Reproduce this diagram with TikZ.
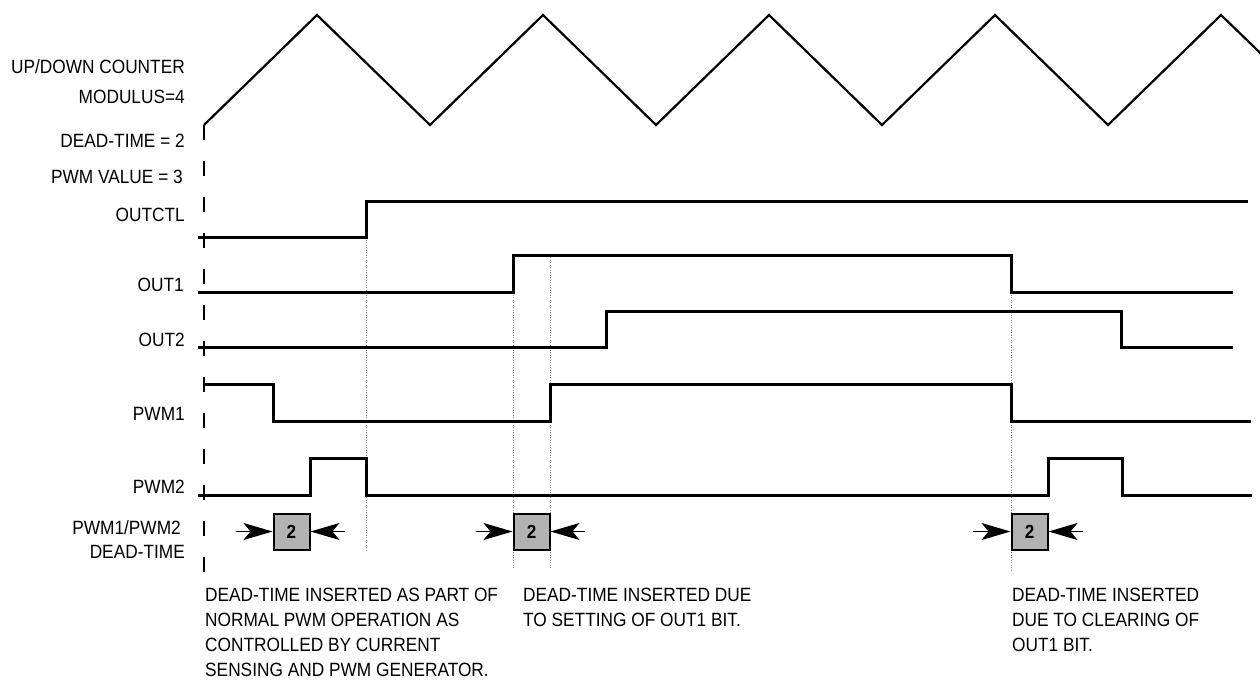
\documentclass[tikz,border=0pt]{standalone}
\usepackage{fontspec}
\setmainfont[FakeStretch=0.90]{Liberation Sans}
\usetikzlibrary{arrows.meta}
\begin{document}
\begin{tikzpicture}[x=1pt,y=-1pt,
 sig/.style={line width=3pt, line join=miter},
 tri/.style={line width=2.2pt},
 guide/.style={black!45, line width=0.9pt, dash pattern=on 1pt off 1.5pt},
 marker/.style={line width=2pt, dash pattern=on 15pt off 21pt},
 lbl/.style={anchor=base east, inner sep=0, font=\fontsize{19.2}{22}\selectfont},
 note/.style={anchor=north west, inner sep=0, font=\fontsize{19.2}{25}\selectfont, align=left},
 dtbox/.style={draw, line width=2pt, fill=black!30, minimum size=36pt, inner sep=0, font=\bfseries\fontsize{19}{20}\selectfont},
 dtarrow/.style={line width=1.5pt, -{Stealth[length=29pt,width=17pt,inset=7pt]}}
]
\useasboundingbox (0,0) rectangle (1260,685);

% labels
\node[lbl] (lcnt) at (185,74) {UP/DOWN COUNTER};
\node[lbl] (lmod) at (185,103) {MODULUS=4};
\node[lbl] (ldt) at (185,147) {DEAD-TIME = 2};
\node[lbl] (lpwmv) at (183,183) {PWM VALUE = 3};
\node[lbl] (loutctl) at (185,221) {OUTCTL};
\node[lbl] (lout1) at (184,291) {OUT1};
\node[lbl] (lout2) at (185,346) {OUT2};
\node[lbl] (lpwm1) at (185,420) {PWM1};
\node[lbl] (lpwm2) at (185,493) {PWM2};
\node[lbl] (lpwm12) at (181,534) {PWM1/PWM2};
\node[lbl] (ldead) at (185,558) {DEAD-TIME};

% guides
\draw[guide] (366,237) -- (366,552);
\draw[guide] (513,292) -- (513,568);
\draw[guide] (550,257) -- (550,568);
\draw[guide] (1011,292) -- (1011,570);

% start marker
\draw[marker] (204,125) -- (204,572);

% counter
\draw[tri] (204,125) -- (317,15) -- (430,125) -- (543,15) -- (656,125) -- (769,15) -- (882,125) -- (995,15) -- (1108,125) -- (1221,15) -- (1262,54.7);

% signals
\draw[sig] (198,237) -- (366,237) -- (366,201) -- (1248,201);
\draw[sig] (198,292) -- (513,292) -- (513,255) -- (1011,255) -- (1011,292) -- (1233,292);
\draw[sig] (198,347) -- (606,347) -- (606,311) -- (1121,311) -- (1121,347) -- (1233,347);
\draw[sig] (204,384) -- (273,384) -- (273,421) -- (550,421) -- (550,384) -- (1011,384) -- (1011,421) -- (1251,421);
\draw[sig] (198,495) -- (310,495) -- (310,458) -- (366,458) -- (366,495) -- (1048,495) -- (1048,458) -- (1122,458) -- (1122,495) -- (1252,495);

% dead-time boxes
\node[dtbox] (b1) at (291.5,531.5) {2};
\node[dtbox] (b2) at (531.5,531.5) {2};
\node[dtbox] (b3) at (1029.5,531.5) {2};
\coordinate (a1l) at (236,531.5);
\coordinate (a1r) at (345,531.5);
\coordinate (a2l) at (476,531.5);
\coordinate (a2r) at (585,531.5);
\coordinate (a3l) at (973,531.5);
\coordinate (a3r) at (1083,531.5);
\draw[dtarrow] (a1l) -- (b1.west);
\draw[dtarrow] (a1r) -- (b1.east);
\draw[dtarrow] (a2l) -- (b2.west);
\draw[dtarrow] (a2r) -- (b2.east);
\draw[dtarrow] (a3l) -- (b3.west);
\draw[dtarrow] (a3r) -- (b3.east);

% notes
\node[note] (n1) at (205,588) {DEAD-TIME INSERTED AS PART OF\\NORMAL PWM OPERATION AS\\CONTROLLED BY CURRENT\\SENSING AND PWM GENERATOR.};
\node[note] (n2) at (523,588) {DEAD-TIME INSERTED DUE\\TO SETTING OF OUT1 BIT.};
\node[note] (n3) at (1012,588) {DEAD-TIME INSERTED\\DUE TO CLEARING OF\\OUT1 BIT.};
\end{tikzpicture}
\end{document}
